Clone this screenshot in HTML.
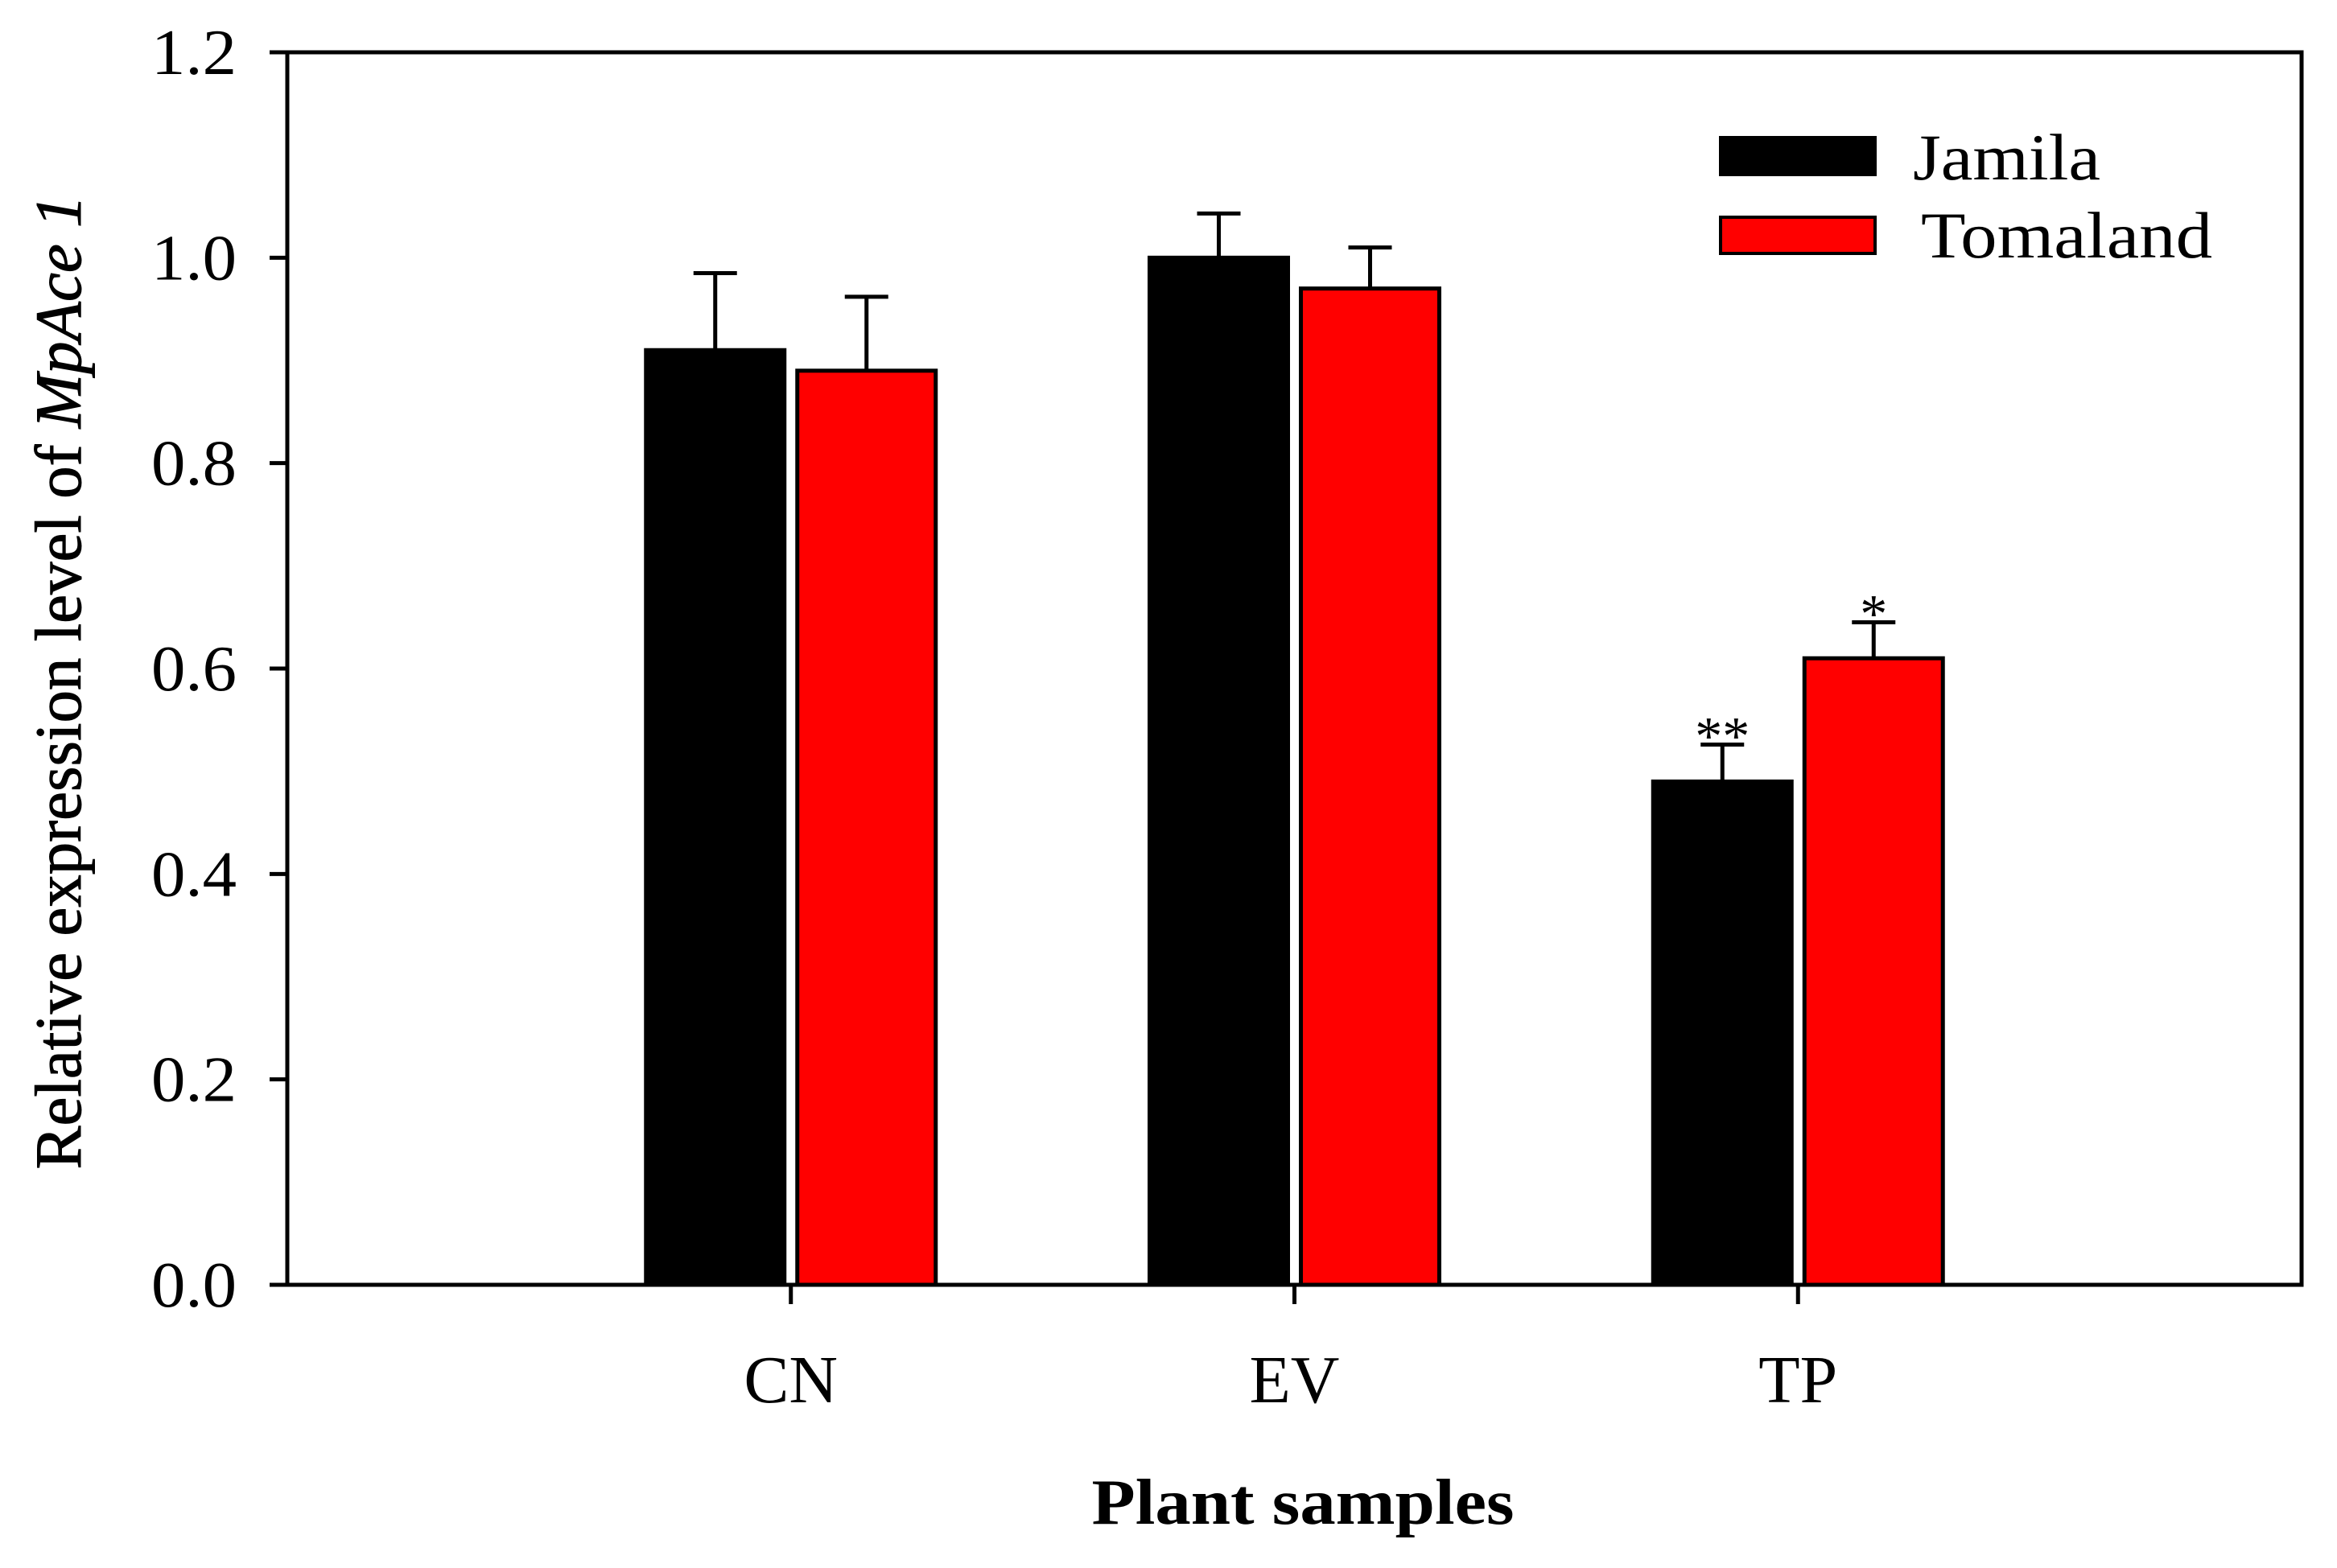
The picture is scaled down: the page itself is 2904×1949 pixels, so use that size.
<!DOCTYPE html>
<html><head><meta charset="utf-8"><style>
html,body{margin:0;padding:0;background:#fff;}
svg{display:block;}
text{font-family:"Liberation Serif",serif;fill:#000;}
</style></head><body>
<svg id="chart" width="2904" height="1949" viewBox="0 0 2904 1949" xmlns="http://www.w3.org/2000/svg">
<rect x="0" y="0" width="2904" height="1949" fill="#fff"/>
<g id="marks"></g>
<rect x="357" y="65" width="2503" height="1532" fill="none" stroke="#000" stroke-width="5"/>
<g id="axes"></g>
<text x="0" y="0" transform="translate(100,848) rotate(-90)" text-anchor="middle" font-size="82" textLength="1211" lengthAdjust="spacingAndGlyphs" stroke="#000" stroke-width="1">Relative expression level of <tspan font-style="italic">MpAce 1</tspan></text>
<text x="1619" y="1894" text-anchor="middle" font-size="80" font-weight="bold" textLength="525" lengthAdjust="spacingAndGlyphs">Plant samples</text>
<g>
<rect x="2138" y="171" width="192" height="46" fill="#000" stroke="#000" stroke-width="4"/>
<text x="2377" y="223" font-size="82" textLength="233" lengthAdjust="spacingAndGlyphs">Jamila</text>
<rect x="2138" y="270" width="192" height="45" fill="#ff0000" stroke="#000" stroke-width="4"/>
<text x="2387" y="320" font-size="82" textLength="362" lengthAdjust="spacingAndGlyphs">Tomaland</text>
</g>
</svg>
<script>
const categories = ["CN", "EV", "TP"];
const jamila = [0.91, 1.00, 0.49];
const tomaland = [0.89, 0.97, 0.61];
const jamilaErr = [0.075, 0.043, 0.036];
const tomalandErr = [0.072, 0.040, 0.035];
const jamilaSig = ["", "", "**"];
const tomalandSig = ["", "", "*"];
const yTicks = [0.0, 0.2, 0.4, 0.6, 0.8, 1.0, 1.2];
const yTickLabels = ["0.0", "0.2", "0.4", "0.6", "0.8", "1.0", "1.2"];

const NS = "http://www.w3.org/2000/svg";
const X0 = 357, X1 = 2860, Y0 = 1597, Y1 = 65, YMAX = 1.2;
function yScale(v){ return Y0 - (v / YMAX) * (Y0 - Y1); }
function xCenter(i){ return X0 + (X1 - X0) * (i + 1) / (categories.length + 1); }
function mk(tag, attrs, parent){ const e = document.createElementNS(NS, tag); for (const k in attrs) e.setAttribute(k, attrs[k]); parent.appendChild(e); return e; }

const marks = document.getElementById("marks");
const axes = document.getElementById("axes");
const BW = 172, GAP = 8, CAP = 27;

const series = [
  {vals: jamila, err: jamilaErr, sig: jamilaSig, fill: "#000", name: "jamila", off: -1},
  {vals: tomaland, err: tomalandErr, sig: tomalandSig, fill: "#ff0000", name: "tomaland", off: 1}
];
series.forEach(s => {
  s.vals.forEach((v, i) => {
    const c = xCenter(i);
    const x = s.off < 0 ? c - GAP - BW : c + GAP;
    const yt = yScale(v);
    const cx = x + BW / 2;
    const ye = yScale(v + s.err[i]);
    const el = mk("line", {x1: cx, y1: yt, x2: cx, y2: ye, stroke: "#000", "stroke-width": 5}, marks);
    
    
    const cap = mk("line", {x1: cx - CAP, y1: ye, x2: cx + CAP, y2: ye, stroke: "#000", "stroke-width": 5}, marks);
    
    
    const r = mk("rect", {x: x, y: yt, width: BW, height: Y0 - yt, fill: s.fill, stroke: "#000", "stroke-width": 5}, marks);
    
    
    if (s.sig[i]) {
      const t = mk("text", {x: cx, y: ye + 12, "text-anchor": "middle", "font-size": 68}, marks);
      t.textContent = s.sig[i];
      
      
    }
  });
});

yTicks.forEach((v, i) => {
  const y = yScale(v);
  const tk = mk("line", {x1: X0 - 22, y1: y, x2: X0, y2: y, stroke: "#000", "stroke-width": 5}, axes);
  
  
  const t = mk("text", {x: 294, y: y + 27, "text-anchor": "end", "font-size": 80, textLength: 106, lengthAdjust: "spacingAndGlyphs"}, axes);
  t.textContent = yTickLabels[i];
  
  
});
categories.forEach((c, i) => {
  const x = xCenter(i);
  const tk = mk("line", {x1: x, y1: Y0, x2: x, y2: Y0 + 24, stroke: "#000", "stroke-width": 5}, axes);
  
  
  const t = mk("text", {x: x, y: 1743, "text-anchor": "middle", "font-size": 84}, axes);
  t.textContent = c;
  
  
});
</script>
</body></html>
